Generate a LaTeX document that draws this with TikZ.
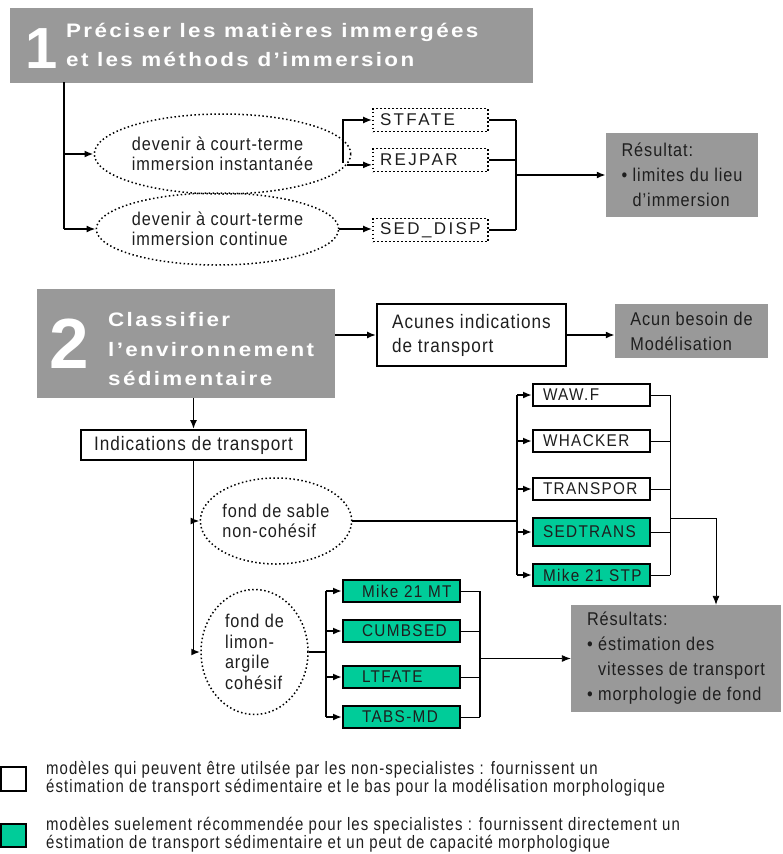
\documentclass[tikz,border=0pt]{standalone}
\usepackage{fontspec}
\setmainfont{Liberation Sans}
\newfontfamily\bodyfont{Liberation Sans}[FakeStretch=0.88,LetterSpace=5]
\newfontfamily\keyfont{Liberation Sans}[FakeStretch=0.83,LetterSpace=6]
\newfontfamily\headfont{Liberation Sans}[FakeStretch=1.15,LetterSpace=12]
\newfontfamily\dotfont{Liberation Sans}[LetterSpace=14]
\newfontfamily\modfont{Liberation Sans}[FakeStretch=0.9,LetterSpace=8]
\usetikzlibrary{arrows.meta,shapes.geometric}
\definecolor{boxgray}{RGB}{153,153,153}
\definecolor{modgreen}{RGB}{0,204,153}
\definecolor{ink}{RGB}{30,30,30}

\begin{document}
\begin{tikzpicture}
  [x=1pt,y=-1pt,
   every node/.style={inner sep=0pt},
   stephead/.style={fill=boxgray},
   headtxt/.style={text=white,align=left,font=\headfont\bfseries\fontsize{19.5}{29.5}\selectfont},
   bignum/.style={text=white,font=\bfseries\fontsize{58}{58}\selectfont},
   outcome/.style={fill=boxgray,text=ink,align=left,font=\bodyfont\fontsize{18.5}{25}\selectfont},
   whitebox/.style={draw,line width=1.8pt,text=ink,align=left,font=\bodyfont\fontsize{19.5}{24}\selectfont},
   idea/.style={ellipse,draw,line width=1.5pt,dash pattern=on 1.5pt off 2.5pt,text=ink,align=left,font=\bodyfont\fontsize{18.5}{20.5}\selectfont},
   dotbox/.style={draw,line width=1.6pt,dash pattern=on 1.6pt off 2.4pt,minimum height=23pt,inner xsep=7pt,text width=101pt,align=left,text=ink,font=\dotfont\fontsize{17}{17}\selectfont},
   basicmod/.style={draw,line width=2pt,minimum height=22pt,inner xsep=10pt,text width=97pt,align=left,text=ink,font=\modfont\fontsize{17}{17}\selectfont,
     execute at begin node=\hbox\bgroup,execute at end node=\egroup},
   expertmod/.style={basicmod,fill=modgreen},
   keytext/.style={anchor=west,align=left,text=ink,font=\keyfont\fontsize{18}{15.5}\selectfont},
   conn/.style={line width=1.8pt},
   flow/.style={conn,-{Latex[length=9pt,width=7pt]}},
   fine/.style={line width=0.9pt},
   fineflow/.style={fine,-{Latex[length=9pt,width=7pt]}}]
  \useasboundingbox (0,0) rectangle (782,854);

  % step 1
  \node[stephead,minimum width=523pt,minimum height=75pt] (head1) at (271.5,45) {};
  \node[bignum,anchor=base] (num1) at (42,68) {1};
  \node[headtxt,anchor=north west] (title1) at (66,22.5) {Préciser les matières immergées\\et les méthods d’immersion};

  \node[idea,minimum width=211pt,minimum height=80pt] (court1) at (222.5,154) {devenir à court-terme\\immersion instantanée};
  \node[idea,minimum width=201pt,minimum height=72pt] (court2) at (217.5,229) {devenir à court-terme\\immersion continue};
  \node[dotbox] (stfate) at (430.5,120) {STFATE};
  \node[dotbox] (rejpar) at (430.5,160) {REJPAR};
  \node[dotbox] (seddisp) at (430.5,230) {SED\_DISP};
  \node[outcome,minimum width=152pt,minimum height=84pt] (res1) at (682,175) {Résultat:\\• limites du lieu\\\phantom{• }d’immersion};

  \coordinate (trunk1) at (64,82);
  \coordinate (split1) at (343,163);
  \coordinate (join1) at (516,175);

  \draw[conn] (trunk1) -- (trunk1 |- court2.west);
  \foreach \to in {court1,court2}
    \draw[flow] (trunk1 |- \to.west) -- (\to.west);
  \draw[flow] (court1.-5) -- (court1.-5 -| rejpar.west);
  \draw[flow] (split1) |- (stfate.west);
  \draw[flow] (court2.east) -- (court2.east -| seddisp.west);
  \foreach \from in {stfate,rejpar,seddisp}
    \draw[conn] (\from.east) -- (\from.east -| join1);
  \draw[conn] (stfate.east -| join1) -- (seddisp.east -| join1);
  \draw[flow] (join1) -- (join1 -| res1.west);

  % step 2
  \node[stephead,minimum width=298pt,minimum height=109pt] (head2) at (186,343.5) {};
  \node[bignum,font=\bfseries\fontsize{71}{71}\selectfont,anchor=base] (num2) at (69,368) {2};
  \node[headtxt,anchor=north west] (title2) at (108,312.5) {Classifier\\l’environnement\\sédimentaire};
  \node[whitebox,minimum width=189pt,minimum height=62pt] (acunes) at (471.5,335) {Acunes indications\\de transport};
  \node[outcome,minimum width=153pt,minimum height=54pt] (nomodel) at (691.5,331) {Acun besoin de\\Modélisation};
  \node[whitebox,minimum width=225pt,minimum height=30pt] (ind) at (193.5,445) {Indications de transport};
  \node[idea,minimum width=136pt,minimum height=86pt] (sable) at (276,521) {fond de sable\\non-cohésif};
  \node[idea,minimum width=107pt,minimum height=125pt] (limon) at (254.5,652) {fond de\\limon-\\argile\\cohésif};

  \node[basicmod] (wawf) at (591.5,395) {WAW.F};
  \node[basicmod] (whacker) at (591.5,441) {WHACKER};
  \node[basicmod] (transpor) at (591.5,489) {TRANSPOR};
  \node[expertmod,minimum height=28pt] (sedtrans) at (591.5,532) {SEDTRANS};
  \node[expertmod] (stp) at (591.5,575) {Mike 21 STP};

  \node[expertmod,inner xsep=19pt,text width=79pt] (mt) at (401.5,591) {Mike 21 MT};
  \node[expertmod,inner xsep=19pt,text width=79pt] (cumbsed) at (401.5,631) {CUMBSED};
  \node[expertmod,inner xsep=19pt,text width=79pt] (ltfate) at (401.5,677) {LTFATE};
  \node[expertmod,inner xsep=19pt,text width=79pt] (tabs) at (401.5,717) {TABS-MD};

  \node[outcome,minimum width=210pt,minimum height=107pt] (res2) at (676,658.5) {Résultats:\\• éstimation des\\\phantom{• }vitesses de transport\\• morphologie de fond};

  \draw[flow] (head2.east |- acunes.west) -- (acunes.west);
  \draw[flow] (acunes.east) -- (acunes.east -| nomodel.west);
  \draw[flow] (head2.south -| ind.north) -- (ind.north);
  \draw[conn] (ind.south) -- (ind.south |- limon.west);
  \foreach \to in {sable,limon}
    \draw[flow] (ind.south |- \to.west) -- (\to.west);

  \coordinate (bus2) at (517,521);
  \coordinate (bus3) at (670,518);
  \coordinate (bend3) at (716,518);
  \draw[conn] (sable.east) -- (bus2);
  \draw[conn] (wawf.west -| bus2) -- (stp.west -| bus2);
  \foreach \to in {wawf,whacker,transpor,sedtrans,stp}
    \draw[flow] (\to.west -| bus2) -- (\to.west);
  \foreach \from in {wawf,whacker,transpor,sedtrans,stp}
    \draw[fine] (\from.east) -- (\from.east -| bus3);
  \draw[fine] (wawf.east -| bus3) -- (stp.east -| bus3);
  \draw[fineflow] (bus3) -- (bend3) -- (bend3 |- res2.north);

  \coordinate (bus4) at (326,652);
  \coordinate (bus5) at (480,658.5);
  \draw[conn] (limon.east) -- (bus4);
  \draw[conn] (mt.west -| bus4) -- (tabs.west -| bus4);
  \foreach \to in {mt,cumbsed,ltfate,tabs}
    \draw[flow] (\to.west -| bus4) -- (\to.west);
  \foreach \from in {mt,cumbsed,ltfate,tabs}
    \draw[fine] (\from.east) -- (\from.east -| bus5);
  \draw[conn] (mt.east -| bus5) -- (tabs.east -| bus5);
  \draw[fineflow] (bus5) -- (res2.west);

  % legend
  \node[draw,line width=2pt,minimum width=25pt,minimum height=24pt] (keybasic) at (13,779) {};
  \node[draw,fill=modgreen,line width=2pt,minimum width=25pt,minimum height=23pt] (keyexpert) at (13,835.5) {};
  \node[keytext] (keytxt1) at (46,778.5)
    {modèles qui peuvent être utilsée par les non-specialistes : fournissent un\\éstimation de transport sédimentaire et le bas pour la modélisation morphologique};
  \node[keytext] (keytxt2) at (46,835)
    {modèles suelement récommendée pour les specialistes : fournissent directement un\\éstimation de transport sédimentaire et un peut de capacité morphologique};
\end{tikzpicture}
\end{document}
